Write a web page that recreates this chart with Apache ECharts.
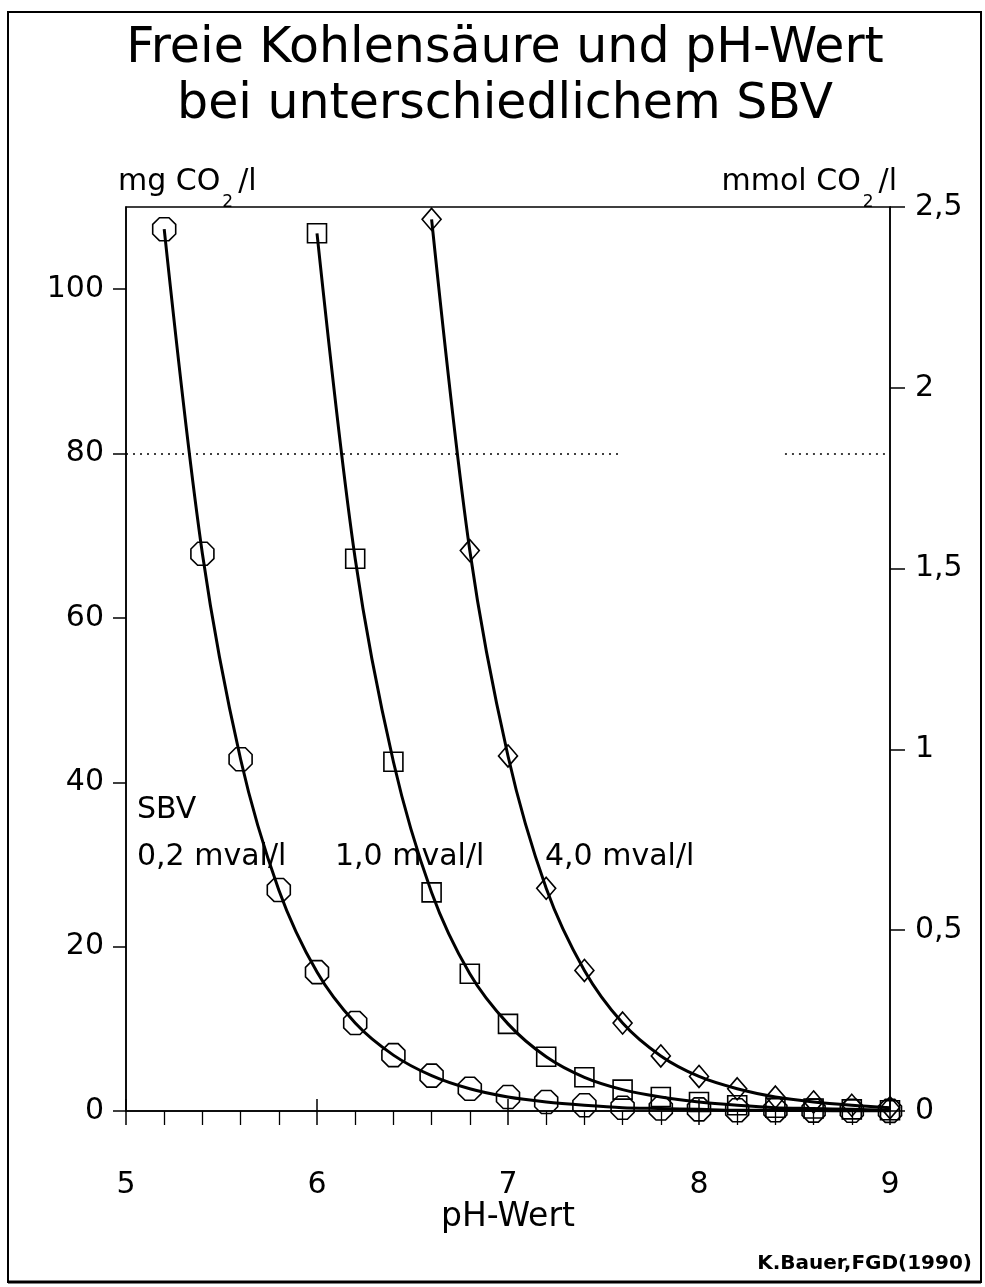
<!DOCTYPE html>
<html>
<head>
<meta charset="utf-8">
<title>Freie Kohlensäure und pH-Wert</title>
<script src="https://cdn.jsdelivr.net/npm/echarts@6/dist/echarts.min.js"></script>
<style>
  html, body { margin: 0; padding: 0; background: #fff; }
  #chart { width: 985px; height: 1287px; }
</style>
</head>
<body>
<div id="chart"></div>
<script>
// pH-Werte der Messpunkte (alle 0,2)
const phValues = [5.2, 5.4, 5.6, 5.8, 6.0, 6.2, 6.4, 6.6, 6.8, 7.0, 7.2, 7.4, 7.6, 7.8, 8.0, 8.2, 8.4, 8.6, 8.8, 9.0]

// freie Kohlensäure in mg CO2/l, je SBV
const co2Sbv02 = [107.3, 67.8, 42.8, 26.9, 16.9, 10.7, 6.8, 4.3, 2.7, 1.7, 1.1, 0.7, 0.4, 0.3, 0.2, 0.1, 0.1, 0.05, 0.03, 0.02]
const co2Sbv10 = [106.8, 67.2, 42.5, 26.6, 16.7, 10.6, 6.6, 4.1, 2.6, 1.7, 1.1, 0.7, 0.4, 0.3, 0.2, 0.1]
const co2Sbv40 = [108.5, 68.2, 43.2, 27.1, 17.1, 10.7, 6.7, 4.2, 2.7, 1.7, 1.1, 0.7, 0.4]

// Achsenteilung
const mgTicks = [0, 20, 40, 60, 80, 100]
const mmolTicks = [0, 0.5, 1, 1.5, 2, 2.5]

const sbvLabels = ['0,2 mval/l', '1,0 mval/l', '4,0 mval/l']

const font = 'DejaVu Sans'
const octagon = 'path://M-0.414,-1L0.414,-1L1,-0.414L1,0.414L0.414,1L-0.414,1L-1,0.414L-1,-0.414Z'

// x-Werte passend zur Länge der Reihe (Reihen enden alle bei pH 9)
function toPoints (values) {
  const xs = phValues.slice(phValues.length - values.length)
  return values.map((v, i) => [xs[i], v])
}

function curve (name, values, symbol, size) {
  return {
    name,
    type: 'line',
    data: toPoints(values),
    smooth: 0.3,
    clip: false,
    symbol,
    symbolSize: size,
    showAllSymbol: true,
    lineStyle: { color: '#000', width: 3 },
    itemStyle: { color: 'transparent', borderColor: '#000', borderWidth: 1.6 },
    emphasis: { disabled: true },
    z: 3
  }
}

function label (text, x, y, size, extra) {
  return {
    type: 'text',
    x,
    y,
    style: Object.assign({
      text,
      fontFamily: font,
      fontSize: size,
      fill: '#000',
      align: 'left',
      verticalAlign: 'middle'
    }, extra || {})
  }
}

const chart = echarts.init(document.getElementById('chart'))

const series = [
  curve(sbvLabels[0], co2Sbv02, octagon, 23),
  curve(sbvLabels[1], co2Sbv10, 'rect', 19),
  curve(sbvLabels[2], co2Sbv40, 'diamond', [19, 22])
]

// punktierte Hilfslinie bei 80 mg/l
series[0].markLine = {
  silent: true,
  symbol: 'none',
  label: { show: false },
  lineStyle: { color: '#000', width: 1.5, type: [2, 5] },
  data: [
    [{ coord: [5, 80] }, { coord: [7.6, 80] }],
    [{ coord: [8.45, 80] }, { coord: [9, 80] }]
  ]
}

const unitRich = {
  a: { fontFamily: font, fontSize: 30, color: '#000' },
  s: { fontFamily: font, fontSize: 17, color: '#000', padding: [42, 5, 0, 2] }
}

chart.setOption({
  animation: false,
  backgroundColor: '#fff',
  grid: {
    left: 126,
    right: 95,
    top: 207,
    bottom: 176,
    show: true,
    borderColor: '#000',
    borderWidth: 1.5
  },
  xAxis: [
    {
      type: 'value',
      min: 5,
      max: 9,
      interval: 1,
      name: 'pH-Wert',
      nameLocation: 'middle',
      nameGap: 90,
      nameMoveOverlap: false,
      nameTextStyle: { fontFamily: font, fontSize: 33, color: '#000' },
      axisLine: { lineStyle: { color: '#000', width: 1.5 } },
      axisTick: { length: 14, lineStyle: { color: '#000', width: 1.5 } },
      minorTick: { show: true, splitNumber: 5, length: 14, lineStyle: { color: '#000', width: 1.3 } },
      axisLabel: { margin: 59, fontFamily: font, fontSize: 30, color: '#000' },
      splitLine: { show: false }
    },
    {
      // Hauptstriche auch nach innen
      type: 'value',
      min: 5,
      max: 9,
      interval: 1,
      position: 'bottom',
      axisLine: { show: false },
      axisTick: { inside: true, length: 12, lineStyle: { color: '#000', width: 1.5 } },
      axisLabel: { show: false },
      splitLine: { show: false }
    }
  ],
  yAxis: [
    {
      type: 'value',
      min: 0,
      max: 110,
      position: 'left',
      axisLine: { show: true, lineStyle: { color: '#000', width: 1.5 } },
      axisTick: { show: true, length: 13, customValues: mgTicks, lineStyle: { color: '#000', width: 1.5 } },
      axisLabel: {
        margin: 22,
        fontFamily: font,
        fontSize: 30,
        color: '#000',
        customValues: mgTicks
      },
      splitLine: { show: false }
    },
    {
      type: 'value',
      min: 0,
      max: 2.5,
      position: 'right',
      axisLine: { show: true, lineStyle: { color: '#000', width: 1.5 } },
      axisTick: { show: true, length: 15, customValues: mmolTicks, lineStyle: { color: '#000', width: 1.5 } },
      axisLabel: {
        margin: 25,
        fontFamily: font,
        fontSize: 30,
        color: '#000',
        customValues: mmolTicks,
        formatter: v => String(v).replace('.', ',')
      },
      splitLine: { show: false }
    }
  ],
  series,
  graphic: [
    {
      type: 'rect',
      shape: { x: 8, y: 12, width: 973, height: 1270 },
      style: { fill: 'none', stroke: '#000', lineWidth: 2 },
      silent: true
    },
    {
      type: 'line',
      shape: { x1: 8, y1: 1282, x2: 981, y2: 1282 },
      style: { stroke: '#000', lineWidth: 3 },
      silent: true
    },
    label('Freie Kohlensäure und pH-Wert', 505, 49, 49, { align: 'center' }),
    label('bei unterschiedlichem SBV', 505, 105, 49, { align: 'center' }),
    label('{a|mg CO}{s|2}{a|/l}', 118, 182, 30, { rich: unitRich }),
    label('{a|mmol CO}{s|2}{a|/l}', 897, 182, 30, { rich: unitRich, align: 'right' }),
    label('SBV', 137, 810, 30),
    label(sbvLabels[0], 137, 857, 30),
    label(sbvLabels[1], 335, 857, 30),
    label(sbvLabels[2], 545, 857, 30),
    label('K.Bauer,FGD(1990)', 972, 1264, 20, { align: 'right', fontWeight: 'bold' })
  ]
})
</script>
</body>
</html>
